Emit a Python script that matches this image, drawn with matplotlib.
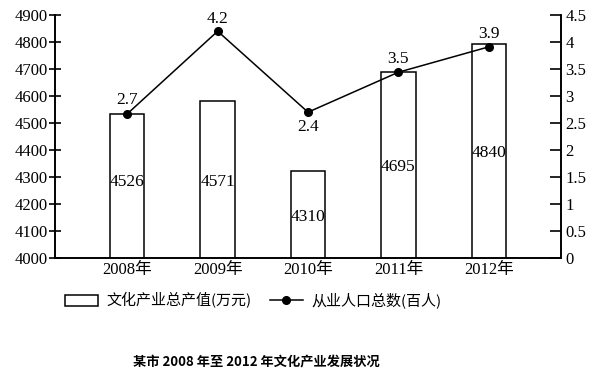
import matplotlib.pyplot as plt
from matplotlib.patches import Patch
from matplotlib.lines import Line2D
from matplotlib.ticker import FormatStrFormatter
import numpy as np

plt.rcParams['font.family'] = ['Liberation Serif', 'Noto Sans CJK SC']

years = ['2008年', '2009年', '2010年', '2011年', '2012年']
# bar heights as drawn in the picture, and the printed value labels
output_drawn = [4533, 4581, 4322, 4689, 4793]
output_labels = ['4526', '4571', '4310', '4695', '4840']
output_label_y = [4281, 4281, 4152, 4337, 4389]
# line points as drawn, and the printed labels
workers_drawn = [2.67, 4.2, 2.7, 3.44, 3.91]
workers_labels = ['2.7', '4.2', '2.4', '3.5', '3.9']
workers_label_y = [2.93, 4.42, 2.42, 3.68, 4.15]

x = np.arange(len(years))

fig = plt.figure(figsize=(6.1, 3.78), dpi=100)
ax = fig.add_axes([0.0902, 0.3175, 0.8295, 0.6428])
ax2 = ax.twinx()

ax.bar(x, output_drawn, width=0.38, color='white', edgecolor='black', linewidth=1.1, zorder=2)
for xi, lab, ly in zip(x, output_labels, output_label_y):
    ax.text(xi, ly, lab, ha='center', va='center', fontsize=12.5, zorder=3)

ax2.plot(x, workers_drawn, '-o', color='black', linewidth=1.1, markersize=5.5)
for xi, lab, ly in zip(x, workers_labels, workers_label_y):
    ax2.text(xi, ly, lab, ha='center', va='center', fontsize=12.5)

ax.set_xlim(-0.8, 4.8)
ax.set_ylim(4000, 4900)
ax.set_yticks(np.arange(4000, 4901, 100))
ax2.set_ylim(0, 4.5)
ax2.set_yticks(np.arange(0, 4.51, 0.5))
ax2.yaxis.set_major_formatter(FormatStrFormatter('%g'))

ax.set_xticks(x)
ax.set_xticklabels(years, fontsize=12)
ax.tick_params(axis='x', length=0, pad=3)
ax.tick_params(axis='y', direction='inout', length=8, width=1.2, labelsize=12, pad=1)
ax2.tick_params(axis='y', direction='in', length=8, width=1.2, labelsize=12, pad=3)

for a in (ax, ax2):
    a.spines['top'].set_visible(False)
    for s in ('left', 'right', 'bottom'):
        a.spines[s].set_linewidth(1.2)

handles = [Patch(facecolor='white', edgecolor='black', linewidth=1.1),
           Line2D([], [], color='black', marker='o', linewidth=1.1, markersize=5.5)]
fig.legend(handles, ['文化产业总产值(万元)', '从业人口总数(百人)'], loc='center',
           bbox_to_anchor=(0.415, 0.205), ncol=2, frameon=False,
           handlelength=2.2, columnspacing=1.2, handletextpad=0.6,
           prop={'family': ['Noto Sans CJK SC'], 'size': 10.8})

fig.text(0.42, 0.042, '某市 2008 年至 2012 年文化产业发展状况', ha='center', va='center',
         fontsize=9.5, fontweight='bold', family=['Noto Sans CJK SC'])

fig.savefig('out.png', dpi=100)
